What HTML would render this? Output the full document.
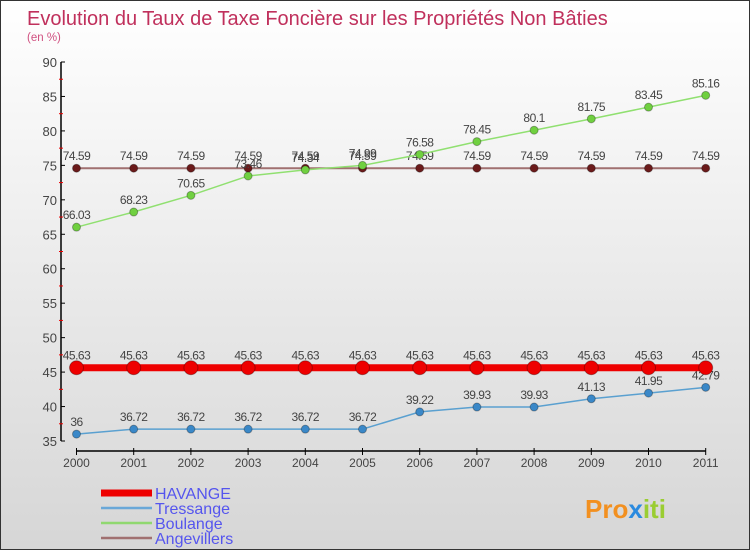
<!DOCTYPE html>
<html><head><meta charset="utf-8"><style>
html,body{margin:0;padding:0}
body{width:750px;height:550px;overflow:hidden;font-family:"Liberation Sans",sans-serif}
#wrap{position:relative;width:748px;height:548px;border:1px solid #333;background:linear-gradient(#ffffff,#d6d6d6)}
</style></head><body>
<div id="wrap">
<svg id="chart" width="748" height="548">
<text x="26" y="24" font-size="20" fill="#c0305c">Evolution du Taux de Taxe Foncière sur les Propriétés Non Bâties</text>
<text x="26" y="40" font-size="11.5" fill="#d05080">(en %)</text>
<g id="axes"></g>
<g id="series"></g>
<g id="legend"></g>
<text x="584" y="517" font-size="26" font-weight="bold" fill="#f29020">Pro<tspan fill="#2a8adf">x</tspan><tspan fill="#9acd32">iti</tspan></text>
</svg>
</div>
<script>
const years = [2000,2001,2002,2003,2004,2005,2006,2007,2008,2009,2010,2011];
const havange = [45.63,45.63,45.63,45.63,45.63,45.63,45.63,45.63,45.63,45.63,45.63,45.63];
const tressange = [36,36.72,36.72,36.72,36.72,36.72,39.22,39.93,39.93,41.13,41.95,42.79];
const boulange = [66.03,68.23,70.65,73.46,74.34,74.99,76.58,78.45,80.1,81.75,83.45,85.16];
const angevillers = [74.59,74.59,74.59,74.59,74.59,74.59,74.59,74.59,74.59,74.59,74.59,74.59];
const yTicks = [35,40,45,50,55,60,65,70,75,80,85,90];
const seriesNames = ["HAVANGE","Tressange","Boulange","Angevillers"];

const NS="http://www.w3.org/2000/svg";
function xs(i){return 75.5+i*57.2;}
function ys(v){return 440-(v-35)*(379/55);}
function mk(tag,attrs,parent){const e=document.createElementNS(NS,tag);for(const k in attrs)e.setAttribute(k,attrs[k]);parent.appendChild(e);return e;}
const axes=document.getElementById('axes');
let el=mk('line',{x1:60,y1:ys(90),x2:60,y2:ys(35),stroke:'#000','stroke-width':1.5},axes);


el=mk('line',{x1:xs(0),y1:450,x2:xs(11),y2:450,stroke:'#000','stroke-width':1.5},axes);


yTicks.forEach(t=>{
  mk('line',{x1:60,y1:ys(t),x2:64,y2:ys(t),stroke:'#000'},axes);
  if(t<90)mk('line',{x1:58,y1:ys(t+2.5),x2:62,y2:ys(t+2.5),stroke:'#e00'},axes);
  const tx=mk('text',{x:56,y:ys(t)+5,'font-size':13,fill:'#444','text-anchor':'end'},axes);
  tx.textContent=t;
  
  
});
years.forEach((y,i)=>{
  mk('line',{x1:xs(i),y1:447,x2:xs(i),y2:454,stroke:'#000'},axes);
  const tx=mk('text',{x:xs(i),y:466,'font-size':12,fill:'#444','text-anchor':'middle'},axes);
  tx.textContent=y;
  
  
});
const ser=document.getElementById('series');
function draw(data,name,line,lw,fill,r){
  const g=mk('g',{},ser);
  
  
  const p=mk('polyline',{points:data.map((v,i)=>xs(i)+','+ys(v)).join(' '),fill:'none',stroke:line,'stroke-width':lw},g);
  
  
  data.forEach((v,i)=>{
    const c=mk('circle',{cx:xs(i),cy:ys(v),r:r,fill:fill,stroke:'rgba(0,0,0,0.3)','stroke-width':1},g);
    
    
    const t=mk('text',{x:xs(i),y:ys(v)-8,'font-size':12,fill:'#444','text-anchor':'middle','letter-spacing':'-0.5'},g);
    t.textContent=v;
    
    
  });
}
draw(angevillers,'angevillers','#a07070',2,'#6b1a1a',4);
draw(boulange,'boulange','#90e070',1.5,'#70d040',4);
draw(tressange,'tressange','#5aa0d0',1.5,'#3a88c8',4);
draw(havange,'havange','#ee0000',7,'#ee0000',7);
const lg=document.getElementById('legend');
const lcol=['#ee0000','#6aa8d8','#90d870','#a07070'];
const lw=[7,2.5,2.5,2.5];
seriesNames.forEach((n,i)=>{
  const y=492+i*15;
  mk('line',{x1:100,y1:y,x2:151,y2:y,stroke:lcol[i],'stroke-width':lw[i]},lg);
  const t=mk('text',{x:154,y:y+6,'font-size':16,fill:'#5555ee'},lg);
  t.textContent=n;
  
  
});
</script>
</body></html>
